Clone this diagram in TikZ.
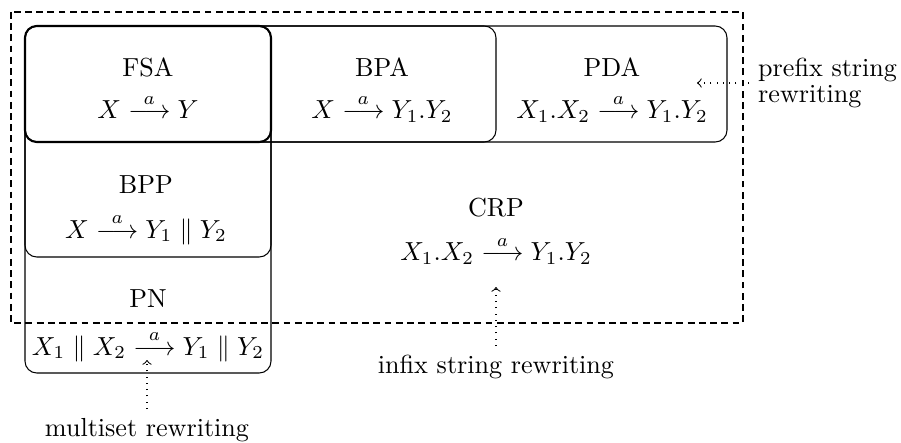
\documentclass[tikz,border=0pt]{standalone}
\usepackage{amsmath}
\newcommand{\tr}{\stackrel{a}{\longrightarrow}}
\begin{document}
\begin{tikzpicture}[x=0.3831pt,y=-0.3831pt,
  box/.style={rounded corners=4.5pt},
  region/.style={dash pattern=on 2.6pt off 1.7pt},
  lbl/.style={anchor=base,inner sep=0pt},
  ann/.style={dotted,->}]
\useasboundingbox (0,0) rectangle (901,443);
% outer dashed region
\draw[region] (11,12) rectangle (743,323);
% nested boxes
\draw[box] (25,26) rectangle (271,373);
\draw[box] (25,26) rectangle (727,142);
\draw[box] (25,26) rectangle (496,142);
\draw[box] (25,26) rectangle (271,257);
\draw[box,thick] (25,26) rectangle (271,142);
% labels
\node[lbl] (fsa) at (148,77) {FSA};
\node[lbl] (fsaf) at (148,119) {$X \tr Y$};
\node[lbl] (bpa) at (382,77) {BPA};
\node[lbl] (bpaf) at (382,119) {$X \tr Y_1.Y_2$};
\node[lbl] (pda) at (612,77) {PDA};
\node[lbl] (pdaf) at (612,119) {$X_1.X_2 \tr Y_1.Y_2$};
\node[lbl] (bpp) at (146,194) {BPP};
\node[lbl] (bppf) at (146,238) {$X \tr Y_1 \parallel Y_2$};
\node[lbl] (crp) at (496,216) {CRP};
\node[lbl] (crpf) at (496,261) {$X_1.X_2 \tr Y_1.Y_2$};
\node[lbl] (pn) at (148,308) {PN};
\node[lbl] (pnf) at (148,355) {$X_1 \parallel X_2 \tr Y_1 \parallel Y_2$};
% annotations
\node[anchor=west,align=left] (pre) at (749,83) {prefix string\\[-1.7pt]rewriting};
\coordinate (pret) at (697,83);
\draw[ann] (pre.west) -- (pret);
\node[anchor=north] (inf) at (496,346) {infix string rewriting};
\coordinate (inft) at (496,287);
\draw[ann] (inf.north) -- (inft);
\node[anchor=north] (mul) at (147,409) {multiset rewriting};
\coordinate (mult) at (147,360);
\draw[ann] (mul.north) -- (mult);
\end{tikzpicture}
\end{document}
